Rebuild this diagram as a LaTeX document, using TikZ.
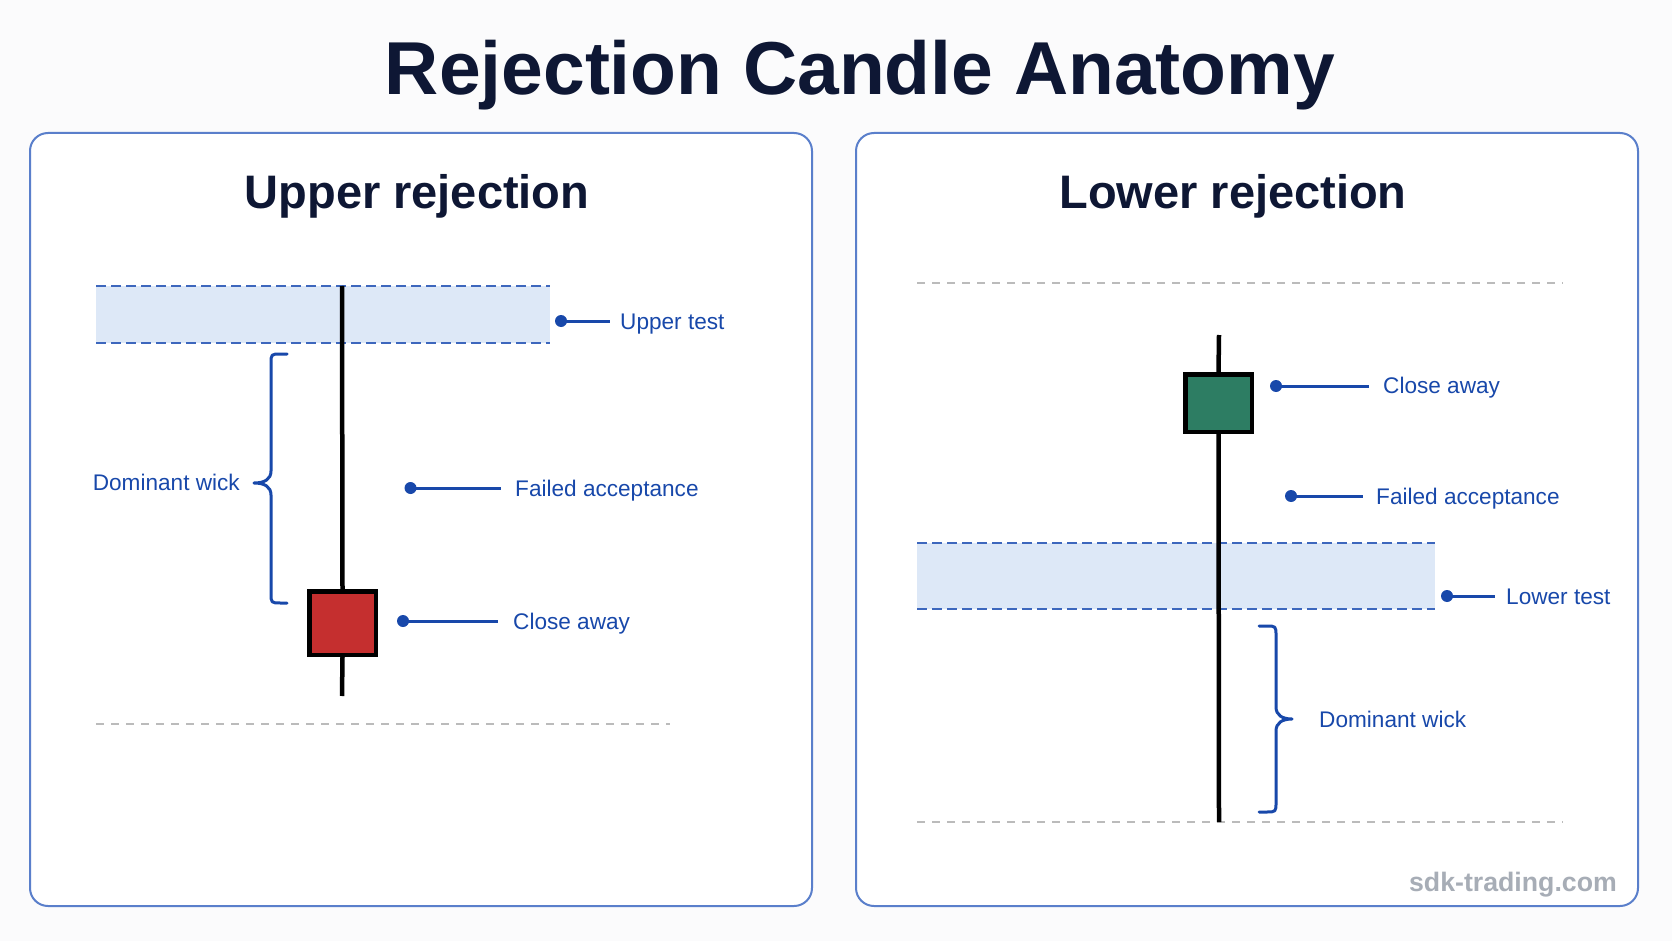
\documentclass[tikz,border=0pt]{standalone}
\usepackage{fontspec}
\setmainfont{Liberation Sans}
\definecolor{bg}{HTML}{FBFBFC}
\definecolor{navy}{HTML}{0E1734}
\definecolor{panelblue}{HTML}{5A7FCB}
\definecolor{labelblue}{HTML}{1848AA}
\definecolor{bandfill}{HTML}{DDE8F7}
\definecolor{bandline}{HTML}{3D67BD}
\definecolor{guidegray}{HTML}{BBBBBB}
\definecolor{candlered}{HTML}{C52F2F}
\definecolor{candlegreen}{HTML}{2D7D63}
\definecolor{wmgray}{HTML}{A7ADB6}
\begin{document}
\begin{tikzpicture}[x=1pt,y=-1pt,
  panel/.style={draw=panelblue, line width=2pt, fill=white, rounded corners=18pt},
  bandbox/.style={fill=bandfill},
  banddash/.style={draw=bandline, line width=2.2pt, dash pattern=on 10pt off 5pt},
  guide/.style={draw=guidegray, line width=2pt, dash pattern=on 8pt off 7pt},
  wickline/.style={draw=black, line width=4.5pt},
  candle/.style={draw=black, line width=4.5pt, rectangle, inner sep=0pt},
  leader/.style={draw=labelblue, line width=3pt},
  dot/.style={circle, fill=labelblue, inner sep=0pt, minimum size=12pt},
  lbl/.style={text=labelblue, font=\fontsize{22.6}{28}\selectfont, inner sep=0pt},
  ptitle/.style={text=navy, font=\fontsize{47}{56}\selectfont\bfseries, inner sep=0pt, anchor=base},
  bracestyle/.style={draw=labelblue, line width=3pt, line cap=round, line join=round}]
\path[use as bounding box, fill=bg] (0,0) rectangle (1672,941);

% main title
\node (title) [text=navy, font=\fontsize{75}{90}\selectfont\bfseries, inner sep=0pt, anchor=base] at (860,95) {Rejection Candle Anatomy};

% panels
\path[panel] (30,133) rectangle (812,906);
\path[panel] (856,133) rectangle (1638,906);

\node (ltitle) [ptitle] at (417,209) {Upper rejection};
\node (rtitle) [ptitle] at (1233,209) {Lower rejection};

% ---------------- left panel ----------------
\fill[bandbox] (96,286) rectangle (550,343);
\draw[banddash] (96,286) -- (550,286);
\draw[banddash] (96,343) -- (550,343);
\draw[guide] (96,724) -- (670,724);

\coordinate (lwtop) at (342,286);
\coordinate (lwbot) at (342,696);
\node (lbody) [candle, fill=candlered, minimum width=66.5pt, minimum height=63.5pt] at (342.5,623) {};
\draw[wickline] (lwtop) -- (lbody.north);
\draw[wickline] (lbody.south) -- (lwbot);

% brace left
\draw[bracestyle] (287,354) -- (281,354) .. controls (271,354) .. (271,364) -- (271,471)
  .. controls (271,479) and (265,483) .. (254,483)
  .. controls (265,483) and (271,487) .. (271,495) -- (271,593)
  .. controls (271,603) .. (281,603) -- (287,603);
\node (ldw) [lbl, anchor=base east] at (240,490) {Dominant wick};

% labels left
\node (lutdot) [dot] at (561,321) {};
\coordinate (lutend) at (610,321);
\draw[leader] (lutdot.center) -- (lutend);
\node (lut) [lbl, anchor=base west] at (620,329.5) {Upper test};

\node (lfadot) [dot] at (410.5,488) {};
\coordinate (lfaend) at (501,488);
\draw[leader] (lfadot.center) -- (lfaend);
\node (lfa) [lbl, anchor=base west] at (515,496.5) {Failed acceptance};

\node (lcadot) [dot] at (403,621) {};
\coordinate (lcaend) at (498,621);
\draw[leader] (lcadot.center) -- (lcaend);
\node (lca) [lbl, anchor=base west] at (513,629.5) {Close away};

% ---------------- right panel ----------------
\draw[guide] (917,283) -- (1563,283);
\draw[guide] (917,822) -- (1563,822);
\fill[bandbox] (917,543) rectangle (1435,609);
\draw[banddash] (917,543) -- (1435,543);
\draw[banddash] (917,609) -- (1435,609);

\coordinate (rwtop) at (1219,335);
\coordinate (rwbot) at (1219,822);
\node (rbody) [candle, fill=candlegreen, minimum width=66.5pt, minimum height=57.5pt] at (1218.5,403) {};
\draw[wickline] (rwtop) -- (rbody.north);
\draw[wickline] (rbody.south) -- (rwbot);

% brace right
\draw[bracestyle] (1259,626) -- (1266,626) .. controls (1276,626) .. (1276,636) -- (1276,707)
  .. controls (1276,715) and (1282,719) .. (1292,719)
  .. controls (1282,719) and (1276,723) .. (1276,731) -- (1276,802)
  .. controls (1276,812) .. (1266,812) -- (1259,812);
\node (rdw) [lbl, anchor=base west] at (1319,727) {Dominant wick};

% labels right
\node (rcadot) [dot] at (1276,386) {};
\coordinate (rcaend) at (1369,386);
\draw[leader] (rcadot.center) -- (rcaend);
\node (rca) [lbl, anchor=base west] at (1383,393.5) {Close away};

\node (rfadot) [dot] at (1291,496) {};
\coordinate (rfaend) at (1363,496);
\draw[leader] (rfadot.center) -- (rfaend);
\node (rfa) [lbl, anchor=base west] at (1376,504) {Failed acceptance};

\node (rltdot) [dot] at (1447,596) {};
\coordinate (rltend) at (1495,596);
\draw[leader] (rltdot.center) -- (rltend);
\node (rlt) [lbl, anchor=base west] at (1506,604) {Lower test};

% watermark
\node (wm) [text=wmgray, font=\fontsize{26.7}{32}\selectfont\bfseries, inner sep=0pt, anchor=base east] at (1617,891) {sdk-trading.com};
\end{tikzpicture}
\end{document}
